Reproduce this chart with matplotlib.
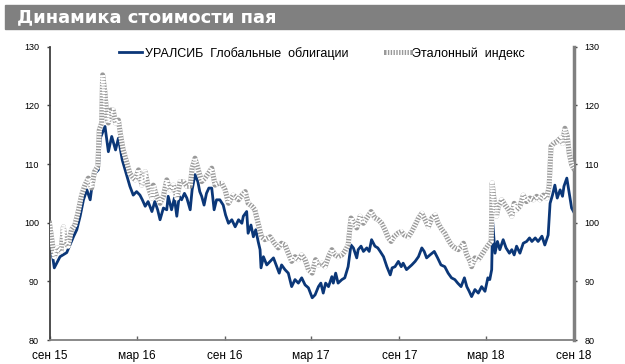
import pandas as pd
import matplotlib
matplotlib.use("Agg")
import matplotlib.pyplot as plt
from matplotlib.patches import Rectangle

plt.rcParams["font.family"] = ["Liberation Sans", "DejaVu Sans"]

title = "Динамика стоимости пая"
fund_name = "УРАЛСИБ  Глобальные  облигации"
bench_name = "Эталонный  индекс"

tick_dates = ["2015-09-01", "2016-03-01", "2016-09-01", "2017-03-01",
              "2017-09-01", "2018-03-01", "2018-09-01"]
tick_labels = ["сен 15", "мар 16", "сен 16", "мар 17", "сен 17", "мар 18", "сен 18"]

fund_dates = [
    "2015-09-01", "2015-09-11", "2015-09-23", "2015-10-07", "2015-10-21", "2015-10-28",
    "2015-11-04", "2015-11-11", "2015-11-18", "2015-11-25", "2015-12-02", "2015-12-12",
    "2015-12-16", "2015-12-26", "2016-01-02", "2016-01-09", "2016-01-17", "2016-01-23",
    "2016-01-31", "2016-02-09", "2016-02-16", "2016-02-23", "2016-03-01", "2016-03-08",
    "2016-03-13", "2016-03-19", "2016-03-25", "2016-04-02", "2016-04-08", "2016-04-14",
    "2016-04-19", "2016-04-26", "2016-05-03", "2016-05-06", "2016-05-13", "2016-05-19",
    "2016-05-24", "2016-05-29", "2016-06-03", "2016-06-09", "2016-06-14", "2016-06-21",
    "2016-06-25", "2016-07-01", "2016-07-07", "2016-07-11", "2016-07-15", "2016-07-20",
    "2016-07-25", "2016-07-30", "2016-08-05", "2016-08-10", "2016-08-15", "2016-08-22",
    "2016-08-29", "2016-09-03", "2016-09-09", "2016-09-16", "2016-09-23", "2016-09-30",
    "2016-10-07", "2016-10-10", "2016-10-17", "2016-10-20", "2016-10-26", "2016-10-31",
    "2016-11-05", "2016-11-10", "2016-11-14", "2016-11-16", "2016-11-21", "2016-11-28",
    "2016-12-05", "2016-12-12", "2016-12-19", "2016-12-24", "2016-12-29", "2017-01-05",
    "2017-01-12", "2017-01-19", "2017-01-26", "2017-02-02", "2017-02-09", "2017-02-16",
    "2017-02-23", "2017-03-03", "2017-03-09", "2017-03-16", "2017-03-21", "2017-03-26",
    "2017-03-31", "2017-04-06", "2017-04-13", "2017-04-16", "2017-04-21", "2017-04-26",
    "2017-05-04", "2017-05-10", "2017-05-17", "2017-05-23", "2017-05-28", "2017-06-04",
    "2017-06-07", "2017-06-13", "2017-06-18", "2017-06-25", "2017-06-30", "2017-07-05",
    "2017-07-12", "2017-07-18", "2017-07-23", "2017-07-30", "2017-08-06", "2017-08-13",
    "2017-08-17", "2017-08-23", "2017-08-30", "2017-09-05", "2017-09-09", "2017-09-16",
    "2017-09-27", "2017-10-04", "2017-10-11", "2017-10-18", "2017-10-23", "2017-10-28",
    "2017-11-04", "2017-11-13", "2017-11-20", "2017-11-27", "2017-12-05", "2017-12-12",
    "2017-12-19", "2017-12-26", "2018-01-01", "2018-01-08", "2018-01-15", "2018-01-20",
    "2018-01-25", "2018-01-30", "2018-02-06", "2018-02-13", "2018-02-20", "2018-02-27",
    "2018-03-05", "2018-03-09", "2018-03-13", "2018-03-15", "2018-03-18", "2018-03-20",
    "2018-03-25", "2018-03-30", "2018-04-06", "2018-04-12", "2018-04-19", "2018-04-24",
    "2018-04-29", "2018-05-04", "2018-05-11", "2018-05-18", "2018-05-25", "2018-05-31",
    "2018-06-05", "2018-06-12", "2018-06-18", "2018-06-26", "2018-07-02", "2018-07-09",
    "2018-07-13", "2018-07-18", "2018-07-23", "2018-07-28", "2018-08-03", "2018-08-08",
    "2018-08-11", "2018-08-17", "2018-08-22", "2018-08-27", "2018-08-31",
]
fund_values = [
    97.9, 92.3, 94.2, 94.9, 97.6, 98.8,
    101.1, 103.9, 105.6, 103.9, 108.2, 109.0,
    114.4, 116.4, 112.1, 114.7, 112.4, 114.4,
    110.7, 108.2, 106.2, 104.7, 105.3, 104.7,
    103.9, 102.8, 103.6, 101.9, 103.6, 102.2,
    100.5, 102.5, 102.2, 104.5, 102.2, 104.2,
    101.1, 104.5, 103.9, 105.0, 104.2, 102.2,
    105.6, 108.2, 107.0, 105.3, 104.5, 103.0,
    105.0, 105.9, 105.9, 102.2, 103.9, 103.9,
    103.0, 101.3, 99.9, 100.5, 99.3, 100.5,
    99.9, 101.1, 101.9, 98.2, 99.6, 97.6,
    98.8, 96.8, 95.4, 92.3, 94.2, 92.8,
    93.4, 94.0, 92.5, 91.4, 92.8, 92.0,
    91.4, 89.1, 90.3, 89.7, 90.6, 89.4,
    88.9, 87.2, 87.7, 89.1, 89.7, 88.0,
    89.7, 89.1, 90.8, 89.7, 91.4, 89.7,
    90.3, 90.6, 92.5, 96.2, 95.7, 94.0,
    95.4, 96.0, 95.1, 95.7, 95.1, 97.1,
    96.0, 95.7, 95.1, 94.2, 92.5, 91.1,
    92.3, 92.5, 93.4, 92.5, 93.1, 92.0,
    92.8, 93.4, 94.2, 95.7, 95.1, 94.0,
    94.5, 95.1, 94.0, 92.8, 92.5, 91.4,
    90.6, 90.3, 89.7, 89.1, 90.6, 89.1,
    88.3, 87.4, 88.6, 88.0, 89.1, 88.3,
    90.6, 90.3, 92.0, 100.2, 97.1, 94.8,
    96.8, 95.4, 97.1, 95.7, 94.8, 95.4,
    94.5, 96.0, 94.8, 96.5, 96.8, 97.4,
    96.8, 97.4, 96.8, 97.7, 96.2, 97.9,
    103.3, 104.7, 106.4, 104.2, 105.6, 104.5,
    106.2, 107.6, 105.0, 102.5, 101.9,
]

bench_dates = [
    "2015-09-01", "2015-09-06", "2015-09-11", "2015-09-18", "2015-09-25", "2015-09-30",
    "2015-10-05", "2015-10-10", "2015-10-17", "2015-10-24", "2015-10-31", "2015-11-07",
    "2015-11-14", "2015-11-21", "2015-11-28", "2015-12-04", "2015-12-11", "2015-12-14",
    "2015-12-19", "2015-12-21", "2015-12-26", "2015-12-30", "2016-01-02", "2016-01-07",
    "2016-01-12", "2016-01-17", "2016-01-23", "2016-01-28", "2016-02-02", "2016-02-09",
    "2016-02-16", "2016-02-23", "2016-02-27", "2016-03-05", "2016-03-12", "2016-03-19",
    "2016-03-25", "2016-04-02", "2016-04-05", "2016-04-12", "2016-04-19", "2016-04-26",
    "2016-05-03", "2016-05-10", "2016-05-17", "2016-05-24", "2016-05-31", "2016-06-07",
    "2016-06-14", "2016-06-21", "2016-06-25", "2016-07-01", "2016-07-08", "2016-07-15",
    "2016-07-22", "2016-07-29", "2016-08-05", "2016-08-12", "2016-08-19", "2016-08-26",
    "2016-09-02", "2016-09-09", "2016-09-19", "2016-09-30", "2016-10-07", "2016-10-14",
    "2016-10-20", "2016-10-28", "2016-11-03", "2016-11-10", "2016-11-17", "2016-11-24",
    "2016-12-05", "2016-12-14", "2016-12-22", "2016-12-29", "2017-01-05", "2017-01-12",
    "2017-01-19", "2017-01-26", "2017-02-02", "2017-02-09", "2017-02-16", "2017-02-23",
    "2017-03-03", "2017-03-10", "2017-03-16", "2017-03-23", "2017-03-30", "2017-04-06",
    "2017-04-13", "2017-04-20", "2017-04-26", "2017-05-04", "2017-05-10", "2017-05-17",
    "2017-05-23", "2017-05-30", "2017-06-04", "2017-06-11", "2017-06-18", "2017-06-25",
    "2017-07-04", "2017-07-12", "2017-07-19", "2017-07-26", "2017-08-02", "2017-08-09",
    "2017-08-15", "2017-08-21", "2017-08-29", "2017-09-05", "2017-09-11", "2017-09-20",
    "2017-09-27", "2017-10-04", "2017-10-11", "2017-10-18", "2017-10-25", "2017-11-01",
    "2017-11-08", "2017-11-15", "2017-11-21", "2017-11-29", "2017-12-05", "2017-12-12",
    "2017-12-19", "2017-12-26", "2018-01-02", "2018-01-09", "2018-01-13", "2018-01-20",
    "2018-01-27", "2018-01-30", "2018-02-06", "2018-02-13", "2018-02-20", "2018-02-27",
    "2018-03-06", "2018-03-12", "2018-03-14", "2018-03-18", "2018-03-23", "2018-03-27",
    "2018-04-03", "2018-04-10", "2018-04-17", "2018-04-24", "2018-04-29", "2018-05-04",
    "2018-05-11", "2018-05-18", "2018-05-25", "2018-06-01", "2018-06-08", "2018-06-15",
    "2018-06-22", "2018-06-29", "2018-07-06", "2018-07-11", "2018-07-15", "2018-07-20",
    "2018-07-27", "2018-08-03", "2018-08-08", "2018-08-13", "2018-08-18", "2018-08-22",
    "2018-08-27", "2018-08-31",
]
bench_values = [
    99.9, 97.1, 94.2, 95.7, 95.1, 99.3,
    96.5, 96.0, 98.8, 99.6, 101.9, 104.7,
    106.4, 107.6, 105.9, 108.7, 109.6, 115.8,
    117.0, 125.2, 122.1, 117.8, 117.0, 119.2,
    119.2, 117.0, 117.5, 114.7, 112.4, 110.4,
    108.4, 107.6, 107.3, 109.0, 106.4, 108.7,
    106.2, 104.2, 106.4, 104.5, 103.3, 104.5,
    107.3, 105.6, 106.4, 104.2, 107.0, 107.0,
    106.2, 106.2, 109.3, 111.0, 109.0, 107.0,
    107.6, 108.4, 109.3, 106.4, 106.7, 106.7,
    105.6, 103.3, 104.7, 103.9, 104.7, 105.3,
    103.3, 102.8, 102.2, 99.9, 97.6, 97.1,
    97.6, 96.5, 95.7, 96.5, 96.2, 94.8,
    93.4, 94.2, 93.7, 94.5, 93.7, 92.0,
    91.4, 93.7, 92.8, 93.1, 92.5, 94.2,
    95.4, 94.5, 94.2, 94.5, 95.1, 96.2,
    100.8, 99.9, 99.1, 101.1, 99.9, 100.8,
    101.9, 100.8, 100.5, 99.9, 98.8, 97.4,
    96.8, 97.6, 98.2, 98.5, 97.9, 97.6,
    98.5, 99.6, 100.8, 101.6, 100.5, 99.3,
    100.8, 101.3, 99.9, 98.8, 98.2, 97.1,
    96.2, 95.7, 95.4, 96.0, 96.5, 94.5,
    93.4, 92.5, 94.0, 93.7, 94.5, 95.4,
    96.2, 96.8, 106.8, 103.9, 101.1, 102.8,
    103.9, 103.0, 102.2, 101.1, 103.3, 102.2,
    102.8, 104.7, 103.6, 104.2, 103.9, 104.5,
    103.9, 104.7, 104.2, 106.2, 113.0, 113.5,
    113.8, 114.4, 113.5, 116.1, 114.7, 111.8,
    109.9, 109.3,
]

fund_x = pd.to_datetime(fund_dates)
bench_x = pd.to_datetime(bench_dates)
ticks = pd.to_datetime(tick_dates)

fig = plt.figure(figsize=(6.25, 3.64), dpi=100)
ax = fig.add_axes([0.0792, 0.0659, 0.8392, 0.8058])

# title bar
fig.patches.append(Rectangle((5 / 625, 1 - 29 / 364), 620 / 625, 24 / 364,
                             transform=fig.transFigure, color="#808080", zorder=0))
fig.text(17 / 625, 1 - 17.5 / 364, title, color="white", fontsize=13,
         fontweight="bold", family="DejaVu Sans", va="center", ha="left")

navy = "#0b3778"
fund_line, = ax.plot(fund_x, fund_values, color=navy, lw=2, zorder=2)
# checkered benchmark line: grey base with fine white dots on top
bench_base, = ax.plot(bench_x, bench_values, color="#9a9a9a", lw=3.6, zorder=3)
bench_dots, = ax.plot(bench_x, bench_values, color="white", lw=3.6,
                      linestyle=(0, (0.28, 0.28)), zorder=4)

ax.set_xlim(pd.Timestamp("2015-09-01"), pd.Timestamp("2018-09-01"))
ax.set_ylim(80, 130)
ax.set_yticks(range(80, 131, 10))
ax.set_xticks(ticks)
ax.set_xticklabels(tick_labels)

ax.spines["top"].set_visible(False)
ax.spines["left"].set_color("#404040")
ax.spines["left"].set_linewidth(1.3)
ax.spines["right"].set_color("#808080")
ax.spines["right"].set_linewidth(2.5)
ax.spines["bottom"].set_color("#808080")
ax.spines["bottom"].set_linewidth(1.3)

ax.tick_params(axis="y", which="both", left=True, right=True, labelleft=True,
               labelright=True, direction="out", length=2.5, width=1,
               color="#404040", labelsize=6.5, pad=5)
ax.tick_params(axis="x", direction="in", length=3, width=1, color="#606060",
               labelsize=8.5, pad=7)

ax.legend([fund_line, (bench_base, bench_dots)], [fund_name, bench_name],
          ncol=2, frameon=False, loc="upper left", bbox_to_anchor=(0.132, 1.0),
          borderaxespad=0, borderpad=0, fontsize=9, handlelength=1.9,
          handletextpad=0.2, columnspacing=3.0)

fig.savefig("out.png", dpi=100)
